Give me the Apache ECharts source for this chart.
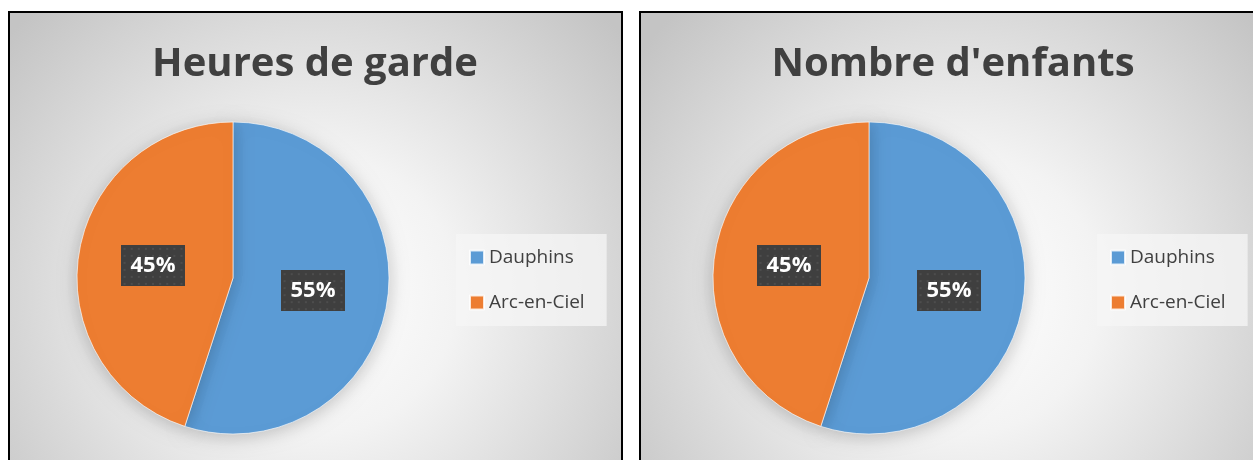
<!DOCTYPE html>
<html>
<head>
<meta charset="utf-8">
<script src="https://cdn.jsdelivr.net/npm/echarts@6/dist/echarts.min.js"></script>
<style>
html,body{margin:0;padding:0;background:#fff;}
#c{width:1253px;height:460px;}
</style>
</head>
<body>
<div id="c"></div>
<script>
const categories = ['Dauphins', 'Arc-en-Ciel'];
const heuresValues = [55, 45];
const enfantsValues = [55, 45];
const chartTitles = ['Heures de garde', "Nombre d'enfants"];

const colors = ['#5B9BD5', '#ED7D31'];
const FONT = '"Open Sans", "Noto Sans", sans-serif';

// dotted dark label background
function makePattern(w, h) {
  const cv = document.createElement('canvas');
  cv.width = w; cv.height = h;
  const ctx = cv.getContext('2d');
  ctx.fillStyle = '#3f3f3f';
  ctx.fillRect(0, 0, w, h);
  ctx.fillStyle = '#4d4d4d';
  for (let y = 3; y < h; y += 7) {
    for (let x = 3; x < w; x += 7) {
      ctx.fillRect(x, y, 2, 2);
    }
  }
  return cv;
}
const pattern = makePattern(64, 41);

function panelFill() {
  return new echarts.graphic.RadialGradient(0.5, 0.6, 0.85, [
    {offset: 0, color: '#ffffff'},
    {offset: 0.35, color: '#f3f3f3'},
    {offset: 1, color: '#c4c4c4'}
  ]);
}

function pieSeries(values, cx) {
  return {
    type: 'pie',
    center: [cx, 278],
    radius: 156,
    startAngle: 90,
    clockwise: true,
    animation: false,
    silent: true,
    data: categories.map((n, i) => ({name: n, value: values[i], itemStyle: {color: colors[i]}})),
    itemStyle: {
      borderColor: 'rgba(255,255,255,0.8)',
      borderWidth: 0.8,
      shadowBlur: 18,
      shadowColor: 'rgba(0,0,0,0.22)',
      shadowOffsetY: 3
    },
    label: {
      show: true,
      position: 'inside',
      formatter: p => Math.round(p.percent) + '%',
      color: '#ffffff',
      fontFamily: FONT,
      fontWeight: 'bold',
      fontSize: 22,
      lineHeight: 23,
      padding: [9, 10, 9, 10],
      backgroundColor: {image: pattern},
      shadowColor: 'rgba(0,0,0,0.45)',
      shadowBlur: 6,
      shadowOffsetX: 3,
      shadowOffsetY: 3
    },
    labelLine: {show: false},
    emphasis: {disabled: true}
  };
}

function legendOpt(left) {
  return {
    data: categories,
    orient: 'vertical',
    left: left,
    top: 234,
    icon: 'rect',
    itemWidth: 14,
    itemHeight: 14,
    itemGap: 26,
    padding: [14, 22, 14, 13],
    backgroundColor: 'rgba(245,245,245,0.75)',
    selectedMode: false,
    textStyle: {color: '#404040', fontSize: 19, fontFamily: FONT}
  };
}

const chart = echarts.init(document.getElementById('c'), null, {renderer: 'canvas'});
chart.setOption({
  animation: false,
  color: colors,
  graphic: [
    {type: 'rect', z: -10, silent: true, shape: {x: 9, y: 12, width: 613, height: 470},
      style: {fill: panelFill(), stroke: '#000', lineWidth: 2}},
    {type: 'rect', z: -10, silent: true, shape: {x: 640, y: 12, width: 640, height: 470},
      style: {fill: panelFill(), stroke: '#000', lineWidth: 2}},
    {type: 'text', z: 10, silent: true, x: 315, y: 65,
      style: {text: chartTitles[0], font: 'bold 40px ' + FONT, fill: '#404040',
        align: 'center', verticalAlign: 'middle', textAlign: 'center', textVerticalAlign: 'middle'}},
    {type: 'text', z: 10, silent: true, x: 953, y: 65,
      style: {text: chartTitles[1], font: 'bold 40px ' + FONT, fill: '#404040',
        align: 'center', verticalAlign: 'middle', textAlign: 'center', textVerticalAlign: 'middle'}}
  ],
  legend: [legendOpt(456), legendOpt(1097)],
  series: [pieSeries(heuresValues, 233), pieSeries(enfantsValues, 869)]
});
</script>
</body>
</html>
